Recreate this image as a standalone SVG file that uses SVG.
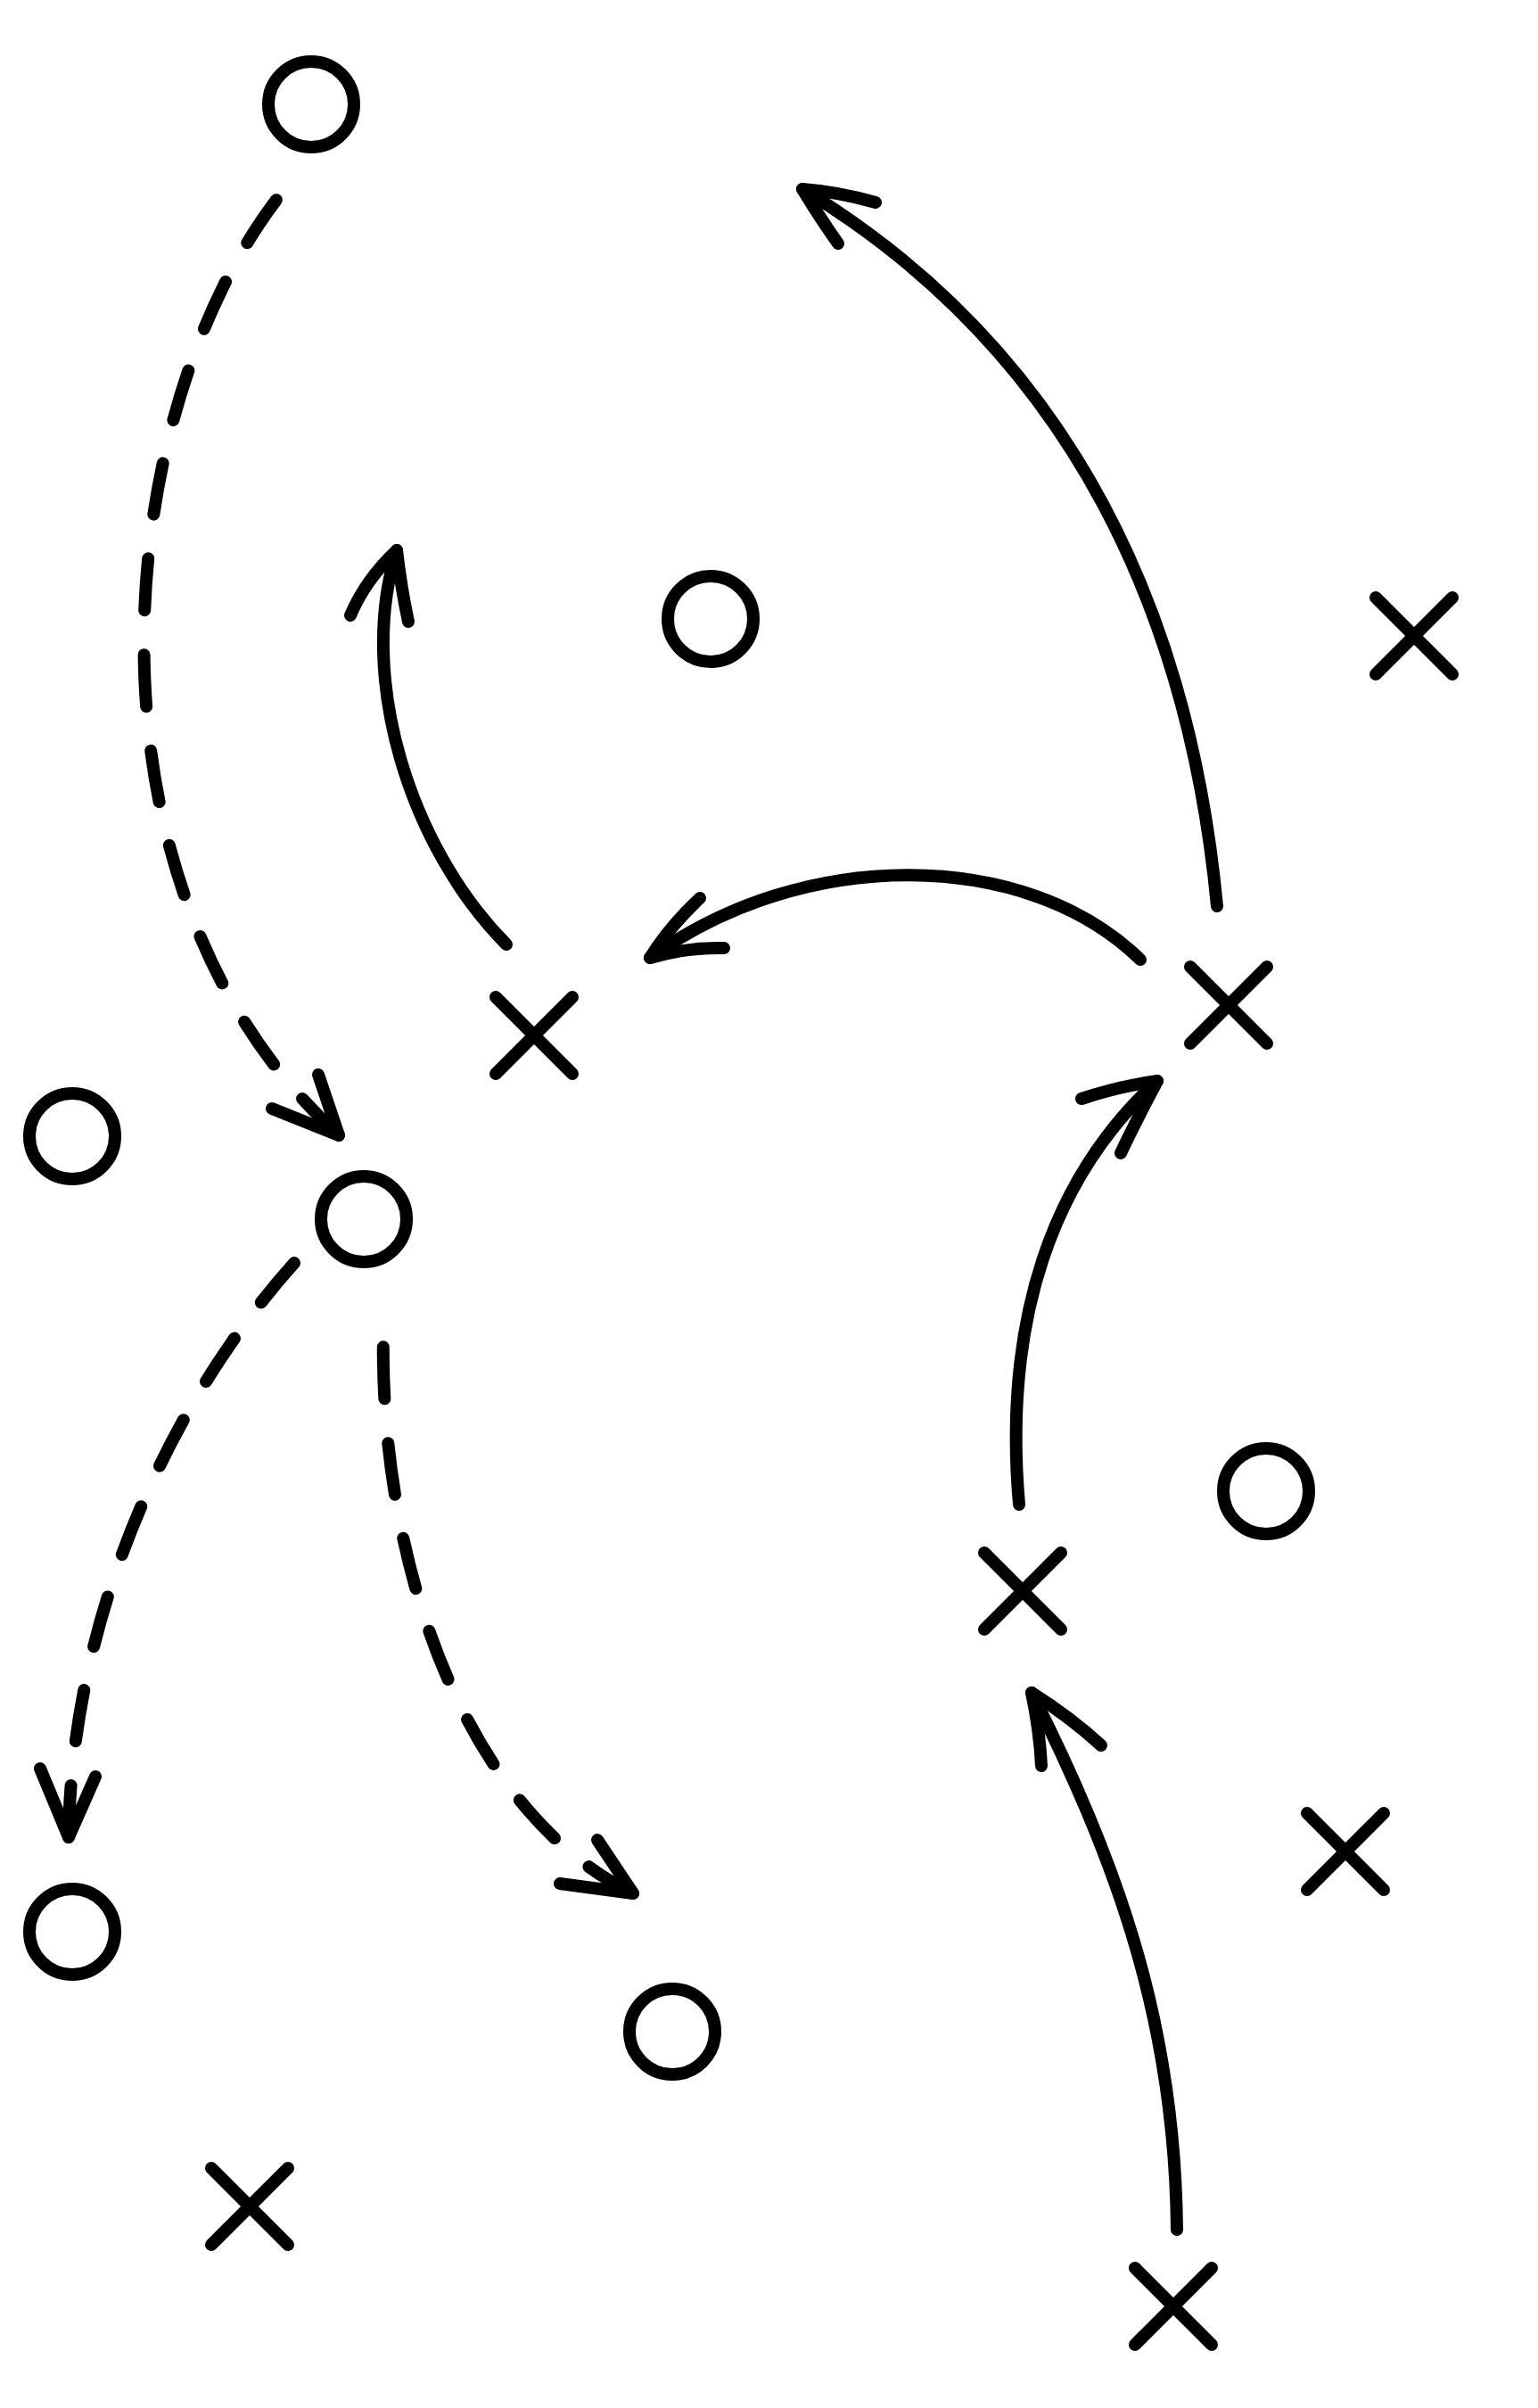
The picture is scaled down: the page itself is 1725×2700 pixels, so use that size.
<svg xmlns="http://www.w3.org/2000/svg" width="1725" height="2700" viewBox="0 0 1725 2700">
<style>
.o{fill:none;stroke:#000;stroke-width:14}
.x{fill:none;stroke:#000;stroke-width:14;stroke-linecap:round}
.c{fill:none;stroke:#000;stroke-width:14;stroke-linecap:round;stroke-linejoin:round}
.d{stroke-dasharray:58 50}
</style>
<defs>
<circle id="O" r="48" class="o"/>
<path id="X" d="M-43,-43L43,43M43,-43L-43,43" class="x"/>
</defs>
<rect width="1725" height="2700" fill="#fff"/>
<g id="o1"><use href="#O" x="349" y="117"/></g>
<g id="o2"><use href="#O" x="797" y="694"/></g>
<g id="o3"><use href="#O" x="81" y="1274"/></g>
<g id="o4"><use href="#O" x="408" y="1367"/></g>
<g id="o5"><use href="#O" x="1420" y="1672"/></g>
<g id="o6"><use href="#O" x="81" y="2166"/></g>
<g id="o7"><use href="#O" x="754" y="2278"/></g>
<g id="x1"><use href="#X" x="1586" y="713"/></g>
<g id="x2"><use href="#X" x="599" y="1161"/></g>
<g id="x3"><use href="#X" x="1378" y="1127"/></g>
<g id="x4"><use href="#X" x="1147" y="1784"/></g>
<g id="x5"><use href="#X" x="1509" y="2076"/></g>
<g id="x6"><use href="#X" x="280" y="2474"/></g>
<g id="x7"><use href="#X" x="1316" y="2586"/></g>
<g id="connectors">
<path class="c d" d="M380,1273C80,1000 120,470 313,220"/>
<path class="c" d="M305,1243L380,1273L357,1205"/>
<path class="c d" d="M77,2060C80,1800 200,1560 331,1415"/>
<path class="c" d="M45,1983L77,2060L107,1992"/>
<path class="c d" d="M710,2123C520,2030 425,1750 430,1494"/>
<path class="c" d="M628,2112L710,2123L670,2063"/>
<path class="c" d="M568,1059C460,950 400,760 445,617"/>
<path class="c" d="M393,690Q410,650 445,617Q450,660 458,697"/>
<path class="c" d="M1279,1076C1150,950 900,950 729,1074"/>
<path class="c" d="M785,1007Q750,1040 729,1074Q770,1062 812,1063"/>
<path class="c" d="M1365,1016C1335,700 1210,400 900,212"/>
<path class="c" d="M982,227Q940,215 900,212Q920,245 940,273"/>
<path class="c" d="M1143,1687C1125,1480 1180,1320 1298,1212"/>
<path class="c" d="M1213,1232Q1255,1218 1298,1212Q1275,1255 1257,1293"/>
<path class="c" d="M1320,2500C1318,2280 1260,2100 1157,1898"/>
<path class="c" d="M1235,1957Q1200,1925 1157,1898Q1166,1940 1168,1980"/>
</g>
</svg>
